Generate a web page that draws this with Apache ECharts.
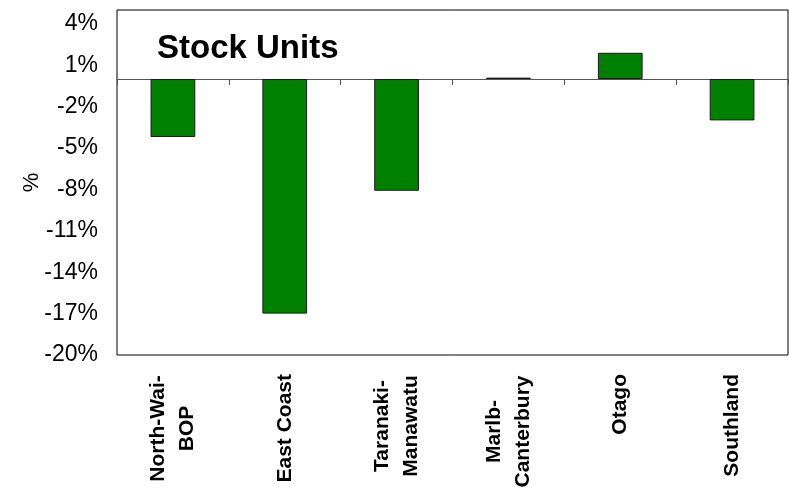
<!DOCTYPE html>
<html>
<head>
<meta charset="utf-8">
<script src="https://cdn.jsdelivr.net/npm/echarts@6/dist/echarts.min.js"></script>
<style>
html,body{margin:0;padding:0;background:#fff;}
#chart{width:789px;height:503px;}
</style>
</head>
<body>
<div id="chart"></div>
<script>
var categories = ["North-Wai-\nBOP", "East Coast", "Taranaki-\nManawatu", "Marlb-\nCanterbury", "Otago", "Southland"];
var stockUnits = [-4.2, -17.0, -8.1, 0.1, 1.9, -3.0];
var yMin = -20, yMax = 5, yStep = 3;
var chartTitle = "Stock Units";
var yName = "%";

var FONT = "'Liberation Sans', Arial, sans-serif";
var LABEL_FS = 21;

// measure widest line of each multi-line label so lines can be centred on one another
var ctx = document.createElement('canvas').getContext('2d');
ctx.font = 'bold ' + LABEL_FS + 'px ' + FONT;
var rich = {};
categories.forEach(function (c, i) {
  var lines = c.split('\n');
  var w = 0;
  lines.forEach(function (l) { w = Math.max(w, ctx.measureText(l).width); });
  rich['c' + i] = {width: Math.ceil(w) + 2, align: 'center', fontSize: LABEL_FS, fontWeight: 'bold', fontFamily: FONT, color: '#000', lineHeight: 29};
});

var chart = echarts.init(document.getElementById('chart'), null, {renderer: 'canvas'});
chart.setOption({
  animation: false,
  backgroundColor: '#fff',
  title: {
    text: chartTitle,
    left: 152,
    top: 26,
    textStyle: {fontFamily: FONT, fontSize: 33, fontWeight: 'bold', color: '#000', lineHeight: 36}
  },
  grid: {left: 117, top: 10, right: 1, bottom: 148, show: true, borderColor: '#000', borderWidth: 1, backgroundColor: 'transparent'},
  xAxis: [{
    type: 'category',
    data: categories,
    position: 'bottom',
    axisLine: {show: false, onZero: false},
    axisTick: {show: false},
    splitLine: {show: false},
    axisLabel: {
      rotate: 90,
      margin: 19,
      interval: 0,
      fontFamily: FONT,
      fontSize: LABEL_FS,
      fontWeight: 'bold',
      color: '#000',
      lineHeight: 29,
      formatter: function (v, idx) {
        var lines = v.split('\n');
        if (lines.length === 1) return v;
        return lines.map(function (l) { return '{c' + idx + '|' + l + '}'; }).join('\n');
      },
      rich: rich
    }
  }, {
    type: 'category',
    data: categories,
    position: 'bottom',
    axisLine: {show: true, onZero: true, lineStyle: {color: '#555', width: 1}},
    axisTick: {show: true, length: 6, inside: false, lineStyle: {color: '#555', width: 1}},
    axisLabel: {show: false},
    splitLine: {show: false}
  }],
  yAxis: {
    type: 'value',
    min: yMin,
    max: yMax,
    interval: yStep,
    name: yName,
    nameLocation: 'middle',
    nameRotate: 90,
    nameGap: 74,
    nameMoveOverlap: false,
    nameTextStyle: {fontFamily: FONT, fontSize: 22, color: '#000'},
    axisLine: {show: false},
    axisTick: {show: false},
    splitLine: {show: false},
    axisLabel: {
      margin: 19,
      fontFamily: FONT,
      fontSize: 23,
      color: '#000',
      padding: [4, 0, 0, 0],
      showMaxLabel: false,
      formatter: function (v) { return v + '%'; }
    }
  },
  series: [{
    type: 'bar',
    xAxisIndex: 0,
    data: stockUnits,
    barWidth: '40%',
    itemStyle: {color: '#008000', borderColor: '#1a1a1a', borderWidth: 1}
  }]
});
</script>
</body>
</html>
